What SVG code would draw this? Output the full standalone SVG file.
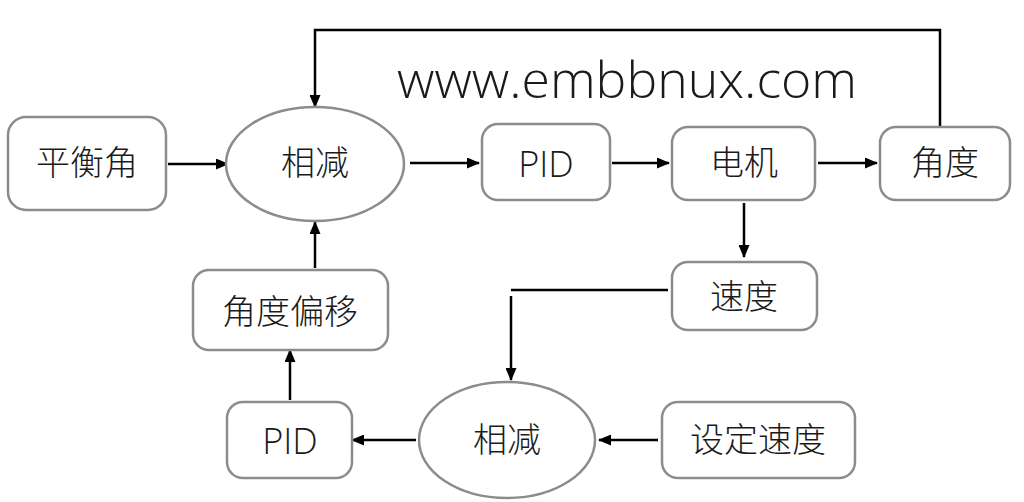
<svg xmlns="http://www.w3.org/2000/svg" width="1024" height="502" viewBox="0 0 1024 502">
<defs>
<style>
.box{fill:#fff;stroke:#8c8c8c;stroke-width:2.5}
.lbl{font-family:"Liberation Sans","Noto Sans CJK SC",sans-serif;font-size:34px;font-weight:300;fill:#1a1a1a;text-anchor:middle;dominant-baseline:central}
.lat{font-family:"Open Sans","Liberation Sans",sans-serif;font-size:36px;font-weight:300;fill:#1a1a1a;text-anchor:middle;dominant-baseline:central}
.wire{fill:none;stroke:#000;stroke-width:2.5}
.arr{marker-end:url(#ah)}
</style>
<marker id="ah" viewBox="0 0 13 11" refX="12" refY="5.5" markerWidth="13" markerHeight="11" markerUnits="userSpaceOnUse" orient="auto">
<path d="M0,0 L13,5.5 L0,11 Z" fill="#000"/>
</marker>
</defs>
<rect width="1024" height="502" fill="#fff"/>
<text x="627" y="98" font-family="Open Sans, Liberation Sans, sans-serif" font-size="50" font-weight="300" fill="#1a1a1a" text-anchor="middle" textLength="460" lengthAdjust="spacingAndGlyphs">www.embbnux.com</text>
<g id="connectors">
<path class="wire arr" d="M168,164 H228"/>
<path class="wire arr" d="M940,127 V30 H315 V107"/>
<path class="wire arr" d="M410,163 H479"/>
<path class="wire arr" d="M612,163 H669"/>
<path class="wire arr" d="M818,163 H877"/>
<path class="wire arr" d="M744,203 V257"/>
<path class="wire" d="M668,290 H511"/>
<path class="wire arr" d="M511,296 V380"/>
<path class="wire arr" d="M658,440 H599"/>
<path class="wire arr" d="M416,440 H352"/>
<path class="wire arr" d="M290,400 V350"/>
<path class="wire arr" d="M315,268 V222"/>
</g>
<g id="n_pinghengjiao"><rect class="box" x="8" y="117" width="158" height="93" rx="18"/><text class="lbl" x="87" y="163">平衡角</text></g>
<g id="n_xiangjian1"><ellipse class="box" cx="315" cy="164" rx="89" ry="57"/><text class="lbl" x="315" y="163">相减</text></g>
<g id="n_pid1"><rect class="box" x="482" y="124" width="128" height="76" rx="16"/><text class="lat" x="546" y="163">PID</text></g>
<g id="n_dianji"><rect class="box" x="672" y="127" width="143" height="73" rx="16"/><text class="lbl" x="744" y="163">电机</text></g>
<g id="n_jiaodu"><rect class="box" x="880" y="127" width="130" height="73" rx="16"/><text class="lbl" x="945" y="163">角度</text></g>
<g id="n_sudu"><rect class="box" x="672" y="262" width="145" height="68" rx="16"/><text class="lbl" x="744" y="297">速度</text></g>
<g id="n_jiaodupianyi"><rect class="box" x="193" y="270" width="195" height="80" rx="16"/><text class="lbl" x="290" y="312">角度偏移</text></g>
<g id="n_pid2"><rect class="box" x="227" y="402" width="125" height="76" rx="16"/><text class="lat" x="290" y="440">PID</text></g>
<g id="n_xiangjian2"><ellipse class="box" cx="507" cy="440" rx="88" ry="58"/><text class="lbl" x="507" y="440">相减</text></g>
<g id="n_shedingsudu"><rect class="box" x="662" y="402" width="193" height="76" rx="16"/><text class="lbl" x="758" y="440">设定速度</text></g>
</svg>
